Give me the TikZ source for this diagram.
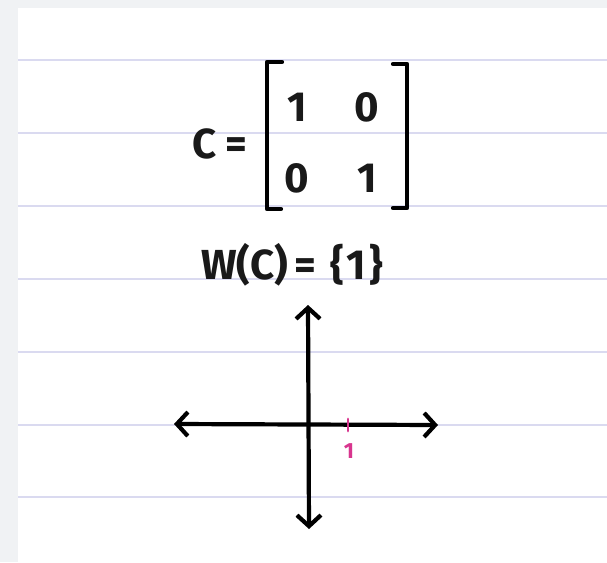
\documentclass[tikz,border=0pt]{standalone}
\usepackage{fontspec}
\setmainfont{Fira Sans}
\usetikzlibrary{arrows.meta}
\definecolor{bggray}{HTML}{F0F2F4}
\definecolor{ruled}{HTML}{DADAF0}
\definecolor{pinkmag}{HTML}{D8358E}
\tikzset{
  ink/.style={line width=4.2pt, black, line cap=round, line join=round},
  axis/.style={ink, {Straight Barb[length=11pt,width=24pt,line width=4.2pt]}-{Straight Barb[length=11pt,width=24pt,line width=4.2pt]}},
  hand/.style={font=\fontsize{42}{44}\selectfont\bfseries, inner sep=0pt, text=black!90},
  rule/.style={ruled, line width=1.2pt}
}
\begin{document}
\begin{tikzpicture}[x=1pt,y=-1pt]
\useasboundingbox (0,0) rectangle (607,562);
\fill[bggray] (0,0) rectangle (607,562);
\fill[white] (18,8) rectangle (607,562);
\foreach \yy in {60,133,206,279,352,425,497} \draw[rule] (18,\yy) -- (607,\yy);
% C = matrix
\node[hand, anchor=center] (ceq) at (220,144) {C\hspace{9pt}=};
\node[hand] (a11) at (297,107) {1};
\node[hand] (a12) at (367,107) {0};
\node[hand] (a21) at (297,178) {0};
\node[hand] (a22) at (367,178) {1};
\draw[ink] (282,62) -- (267,62) -- (267,209) -- (281,209);
\draw[ink] (393,64) -- (407,64) -- (407,208) -- (393,208);
% W(C)
\node[hand] (wc) at (292,265) {W(C)\hspace{6pt}=\hspace{14pt}\{\hspace{3pt}1\hspace{3pt}\}};
% axes
\coordinate (top) at (308,305);
\coordinate (bot) at (309,529);
\coordinate (lft) at (174,424);
\coordinate (rgt) at (438,425);
\draw[axis] (top) -- (bot);
\draw[axis] (lft) -- (rgt);
\coordinate (t1) at (348,419);
\coordinate (t2) at (348,431);
\draw[pinkmag, line width=2.8pt, line cap=round] (t1) -- (t2);
\node[font=\fontsize{22}{23}\selectfont\bfseries, text=pinkmag, inner sep=0pt] (one) at (349,451) {1};
\end{tikzpicture}
\end{document}
